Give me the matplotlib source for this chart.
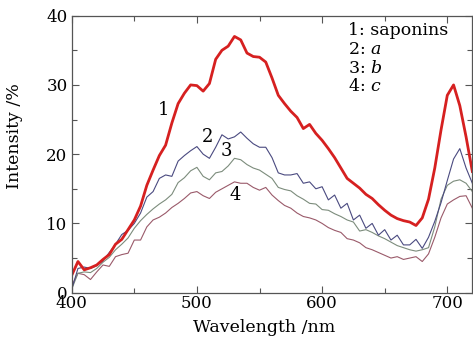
#!/usr/bin/env python3

"""
Fluorescence spectra of saponins and three samples (a, b, c).
"""

import numpy as np
import matplotlib.pyplot as plt
from matplotlib.ticker import MultipleLocator

plt.rcParams['font.family'] = 'DejaVu Serif'
plt.rcParams['mathtext.fontset'] = 'dejavuserif'

wl = np.arange(400, 721, 5)

# curve 1: saponins (thick red)
i1 = [2.5, 4.5, 3.3, 3.6, 4.0, 4.8, 5.5, 7.0, 7.7, 9.1,
      10.5, 12.5, 15.5, 17.7, 19.8, 21.3, 24.5, 27.3, 28.8, 30.0,
      29.9, 29.1, 30.2, 33.7, 35.0, 35.6, 37.0, 36.5, 34.6, 34.1,
      34.0, 33.3, 31.0, 28.5, 27.3, 26.2, 25.3, 23.7, 24.3, 23.0,
      22.0, 20.8, 19.5, 18.0, 16.5, 15.8, 15.1, 14.2, 13.6, 12.7,
      11.9, 11.2, 10.7, 10.4, 10.2, 9.7, 10.8, 13.5, 18.0, 23.5,
      28.5, 30.0, 27.0, 22.5, 17.5]
# curve 2: a
i2 = [0.5, 3.5, 3.7, 3.5, 3.9, 4.6, 5.8, 7.0, 8.4, 9.0,
      10.0, 11.5, 13.8, 14.6, 16.5, 17.0, 16.8, 19.0, 19.8, 20.5,
      21.1, 20.0, 19.4, 21.0, 22.8, 22.2, 22.5, 23.2, 22.3, 21.5,
      21.0, 21.0, 19.5, 17.3, 17.0, 17.0, 17.2, 15.8, 16.0, 15.0,
      15.3, 13.4, 14.1, 12.2, 12.9, 10.5, 11.2, 9.3, 10.0, 8.3,
      9.1, 7.6, 8.3, 6.9, 6.9, 7.7, 6.4, 8.0, 10.3, 13.0,
      16.2, 19.3, 20.8, 18.0, 15.8]
# curve 3: b
i3 = [0.5, 2.8, 3.0, 2.9, 3.5, 4.4, 5.1, 6.2, 7.0, 7.9,
      9.3, 10.4, 11.3, 12.1, 12.8, 13.4, 14.2, 15.9, 16.6, 17.6,
      18.1, 16.8, 16.3, 17.3, 17.5, 18.3, 19.4, 19.2, 18.5, 18.0,
      17.7, 17.1, 16.5, 15.2, 14.9, 14.7, 14.0, 13.5, 12.9, 12.8,
      12.0, 11.9, 11.4, 11.0, 10.5, 10.2, 8.9, 9.1, 8.7, 8.2,
      7.8, 7.3, 6.8, 6.5, 6.2, 6.0, 6.2, 6.5, 9.5, 13.5,
      15.5, 16.1, 16.3, 15.8, 14.6]
# curve 4: c
i4 = [1.0, 2.8, 2.6, 1.9, 3.0, 4.0, 3.8, 5.2, 5.5, 5.7,
      7.6, 7.6, 9.5, 10.5, 10.9, 11.5, 12.3, 12.9, 13.6, 14.4,
      14.6, 14.0, 13.6, 14.5, 15.0, 15.5, 16.0, 15.8, 15.8, 15.2,
      14.8, 15.2, 14.1, 13.3, 12.6, 12.2, 11.5, 11.0, 10.8, 10.5,
      10.0, 9.4, 9.0, 8.7, 7.8, 7.6, 7.2, 6.5, 6.2, 5.8,
      5.4, 5.0, 5.2, 4.8, 5.0, 5.2, 4.5, 5.6, 8.0, 10.8,
      12.8, 13.4, 13.9, 14.0, 12.2]

legend_lines = ['1: saponins', '2: $a$', '3: $b$', '4: $c$']

fig = plt.figure(figsize=(4.73, 3.42), dpi=100)
ax = fig.add_axes([0.1516, 0.1442, 0.847, 0.810])

ax.plot(wl, i4, '-', color='#9a5a6a', lw=0.8)
ax.plot(wl, i3, '-', color='#7c8c7c', lw=0.8)
ax.plot(wl, i2, '-', color='#4a4a80', lw=0.8)
ax.plot(wl, i1, '-', color='#d62020', lw=2.0)

ax.set_xlim(400, 720)
ax.set_ylim(0, 40)
ax.xaxis.set_major_locator(MultipleLocator(100))
ax.xaxis.set_minor_locator(MultipleLocator(50))
ax.yaxis.set_major_locator(MultipleLocator(10))
ax.yaxis.set_minor_locator(MultipleLocator(5))
ax.tick_params(which='both', direction='in', top=True, right=True,
               labelsize=12, color='#555555', width=0.8)
ax.tick_params(axis='x', pad=2)
ax.tick_params(axis='y', pad=3)
ax.tick_params(which='major', length=5)
ax.tick_params(which='minor', length=3.5)
for s in ax.spines.values():
    s.set_color('#555555')
    s.set_linewidth(0.9)

ax.set_xlabel('Wavelength /nm', fontsize=12.5)
ax.set_ylabel('Intensity /%', fontsize=12.5)
ax.xaxis.set_label_coords(0.48, -0.095)
ax.yaxis.set_label_coords(-0.122, 0.567)

# curve numbers
ax.text(473.5, 26.4, '1', fontsize=13, ha='center', va='center')
ax.text(508.2, 22.5, '2', fontsize=13, ha='center', va='center')
ax.text(523.5, 20.4, '3', fontsize=13, ha='center', va='center')
ax.text(530.2, 14.1, '4', fontsize=13, ha='center', va='center')

for k, s in enumerate(legend_lines):
    ax.text(621, 37.8 - k * 2.7, s, fontsize=12.5, ha='left', va='center')

fig.savefig('out.png', dpi=100, facecolor='white')
